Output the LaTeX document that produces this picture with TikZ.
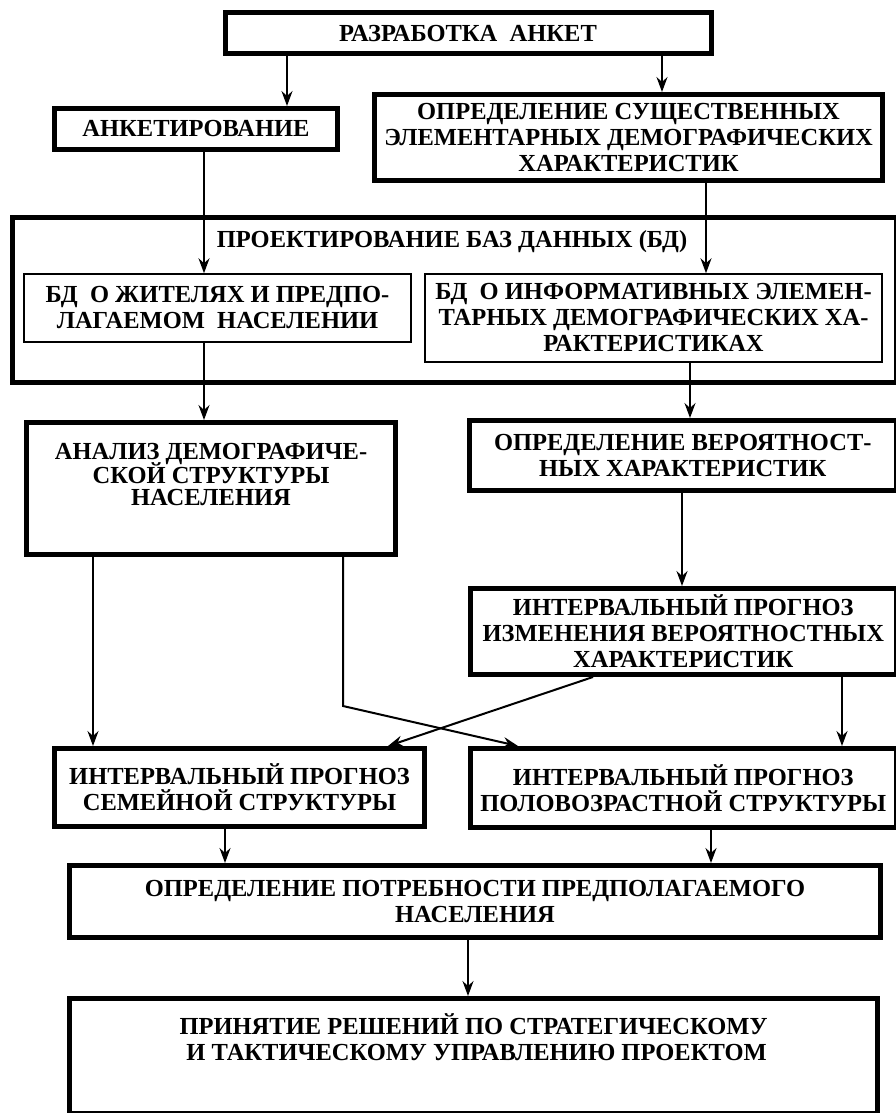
\documentclass[tikz,border=0pt]{standalone}
\usepackage{fontspec}
\setmainfont{Liberation Serif}
\usetikzlibrary{arrows.meta}

\begin{document}
\begin{tikzpicture}[x=1pt, y=-1pt,
    font=\fontsize{24.5}{26}\selectfont\bfseries,
    blk/.style={draw, line width=5pt, align=center, inner sep=0pt},
    dbblk/.style={draw, line width=1.5pt, align=center, inner sep=0pt},
    arr/.style={-{Stealth[length=15pt,width=11pt,inset=5pt]}, line width=2pt}]
    \useasboundingbox (0,0) rectangle (895,1113);

    \node[blk, minimum width=486pt, minimum height=41pt] (razr) at (468,33.5) {РАЗРАБОТКА\ \ АНКЕТ};
    \node[blk, minimum width=283pt, minimum height=41pt] (anket) at (196,129) {АНКЕТИРОВАНИЕ};
    \node[blk, minimum width=508pt, minimum height=86pt] (sush) at (628.5,137.5)
      {ОПРЕДЕЛЕНИЕ СУЩЕСТВЕННЫХ\\ЭЛЕМЕНТАРНЫХ ДЕМОГРАФИЧЕСКИХ\\ХАРАКТЕРИСТИК};

    % проектирование БД
    \node[blk, minimum width=883.5pt, minimum height=165pt] (proekt) at (454.25,300) {};
    \node (proektname) at (452,242) {ПРОЕКТИРОВАНИЕ БАЗ ДАННЫХ (БД)};
    \node[dbblk, minimum width=387pt, minimum height=68pt] (bdzhit) at (217.5,308)
      {БД\ \ О ЖИТЕЛЯХ И ПРЕДПО-\\ЛАГАЕМОМ\ \ НАСЕЛЕНИИ};
    \node[dbblk, minimum width=457pt, minimum height=88pt] (bdinf) at (653.5,318)
      {БД\ \ О ИНФОРМАТИВНЫХ ЭЛЕМЕН-\\ТАРНЫХ ДЕМОГРАФИЧЕСКИХ ХА-\\РАКТЕРИСТИКАХ};

    \node[blk, minimum width=369pt, minimum height=132pt] (analiz) at (211,488.5)
      {АНАЛИЗ ДЕМОГРАФИЧЕ-\\[-3.5pt]СКОЙ СТРУКТУРЫ\\[-3.5pt]НАСЕЛЕНИЯ\\[2pt]\mbox{}};
    \node[blk, minimum width=426.5pt, minimum height=70pt] (veroyat) at (682.75,455.5)
      {ОПРЕДЕЛЕНИЕ ВЕРОЯТНОСТ-\\НЫХ ХАРАКТЕРИСТИК};
    \node[blk, minimum width=425.5pt, minimum height=86pt] (izmen) at (683.25,631.5)
      {ИНТЕРВАЛЬНЫЙ ПРОГНОЗ\\ИЗМЕНЕНИЯ ВЕРОЯТНОСТНЫХ\\ХАРАКТЕРИСТИК};
    \node[blk, minimum width=370pt, minimum height=78pt] (semya) at (239.5,787.5)
      {ИНТЕРВАЛЬНЫЙ ПРОГНОЗ\\СЕМЕЙНОЙ СТРУКТУРЫ};
    \node[blk, minimum width=425.5pt, minimum height=79pt] (polvoz) at (683.25,788)
      {ИНТЕРВАЛЬНЫЙ ПРОГНОЗ\\ПОЛОВОЗРАСТНОЙ СТРУКТУРЫ};
    \node[blk, minimum width=811pt, minimum height=72pt] (potreb) at (475,901.5)
      {ОПРЕДЕЛЕНИЕ ПОТРЕБНОСТИ ПРЕДПОЛАГАЕМОГО\\НАСЕЛЕНИЯ};
    \node[blk, minimum width=808pt, minimum height=115pt] (prinyat) at (473.5,1056)
      {ПРИНЯТИЕ РЕШЕНИЙ ПО СТРАТЕГИЧЕСКОМУ\\\ И ТАКТИЧЕСКОМУ УПРАВЛЕНИЮ ПРОЕКТОМ\\[12pt]\mbox{}};

    % вертикальные стрелки
    \foreach \from/\to/\xx in {razr/anket/287, razr/sush/662, anket/bdzhit/204,
        sush/bdinf/706, bdzhit/analiz/204, bdinf/veroyat/690, veroyat/izmen/682,
        analiz/semya/93, izmen/polvoz/842, semya/potreb/225, polvoz/potreb/711,
        potreb/prinyat/468}
      \draw[arr] (\from.south -| \xx,0) -- (\to.north -| \xx,0);

    % перекрестные связи
    \draw[arr] (analiz.south -| 343,0) -- (343,706) -- (polvoz.north -| 518,0);
    \draw[arr] (izmen.south -| 593,0) -- (semya.north -| 388,0);
\end{tikzpicture}
\end{document}
